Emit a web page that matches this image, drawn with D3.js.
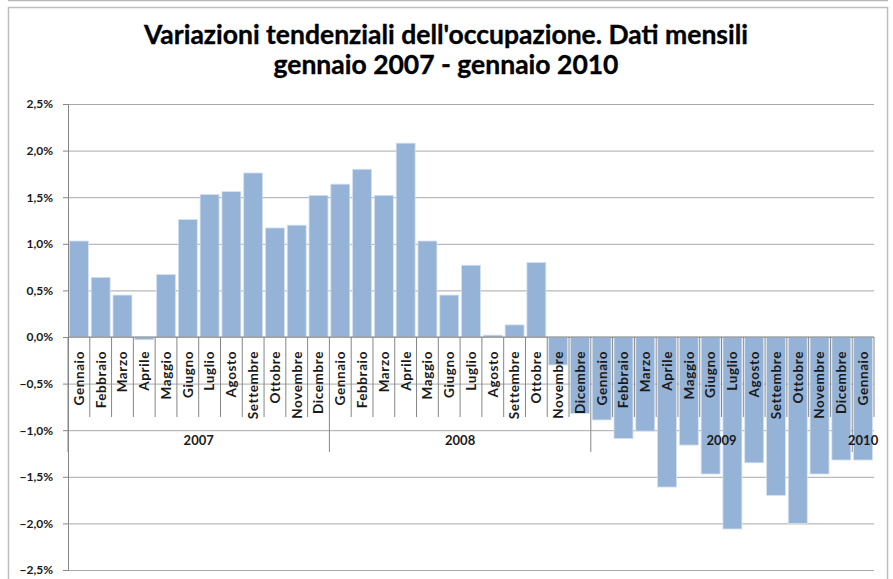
<!DOCTYPE html>
<html>
<head>
<meta charset="utf-8">
<script src="https://cdn.jsdelivr.net/npm/d3@7"></script>
<style>
  body { margin: 0; background: #fff; }
  text { font-family: Lato, "Open Sans", sans-serif; font-weight: bold; fill: #1a1a1a; }
</style>
</head>
<body>
<div id="chart"></div>
<script>
var svgWidth = 893;
var svgHeight = 579;

// month names and years on the category axis
var monthNames = ["Gennaio", "Febbraio", "Marzo", "Aprile", "Maggio", "Giugno",
  "Luglio", "Agosto", "Settembre", "Ottobre", "Novembre", "Dicembre"];
var years = ["2007", "2008", "2009", "2010"];

// tendential variation of employment, %
var values2007 = [1.03, 0.64, 0.45, -0.03, 0.67, 1.26, 1.53, 1.56, 1.76, 1.17, 1.20, 1.52];
var values2008 = [1.64, 1.80, 1.52, 2.08, 1.03, 0.45, 0.77, 0.02, 0.13, 0.80, -0.30, -0.82];
var values2009 = [-0.89, -1.09, -1.01, -1.61, -1.16, -1.47, -2.06, -1.35, -1.70, -2.00, -1.47, -1.32];
var values2010 = [-1.32];

var yTicks = [-2.5, -2.0, -1.5, -1.0, -0.5, 0, 0.5, 1.0, 1.5, 2.0, 2.5];

// flatten to one row per month
var data = [];
[values2007, values2008, values2009, values2010].forEach(function(vals, yi) {
  vals.forEach(function(v, mi) {
    data.push({ year: years[yi], month: monthNames[mi], value: v });
  });
});

var margin = { top: 104, right: 19, bottom: 9, left: 68 };
var width = svgWidth - margin.left - margin.right;
var height = svgHeight - margin.top - margin.bottom;

var svg = d3.select("#chart")
  .append("svg")
  .attr("width", svgWidth)
  .attr("height", svgHeight);

// frame
svg.append("line")
  .attr("x1", 8).attr("x2", 888).attr("y1", 0.5).attr("y2", 0.5)
  .attr("stroke", "#b8b8b8").attr("stroke-width", 1.5);
svg.append("rect")
  .attr("x", 8.5).attr("y", 7.5).attr("width", 879).attr("height", 600)
  .attr("fill", "none").attr("stroke", "#bdbdbd").attr("stroke-width", 1.5);

// title
var title = svg.append("text")
  .attr("text-anchor", "middle")
  .style("font-family", "Lato, sans-serif")
  .style("font-size", "26.5px")
  .style("fill", "#000")
  .style("stroke", "#000")
  .style("stroke-width", "0.35px");
title.append("tspan").attr("x", 446).attr("y", 44)
  .text("Variazioni tendenziali dell'occupazione. Dati mensili");
title.append("tspan").attr("x", 446).attr("y", 74)
  .text("gennaio 2007 - gennaio 2010");

var chartGroup = svg.append("g")
  .attr("transform", `translate(${margin.left}, ${margin.top})`);

var xBandScale = d3.scaleBand()
  .domain(d3.range(data.length))
  .range([0, width])
  .paddingInner(0.13)
  .paddingOuter(0.065);

var yLinearScale = d3.scaleLinear()
  .domain([-2.5, 2.5])
  .range([height, 0]);

var step = xBandScale.step();
var x0 = xBandScale.range()[0];
var fmt = function(d) { return d3.format(".1f")(d).replace(".", ",") + "%"; };

// gridlines
chartGroup.append("g")
  .call(d3.axisLeft(yLinearScale).tickValues(yTicks).tickSize(-width).tickFormat(""))
  .call(g => g.select(".domain").remove())
  .call(g => g.selectAll("line").attr("stroke", "#a9a9a9"));

// y axis
chartGroup.append("g")
  .call(d3.axisLeft(yLinearScale).tickValues(yTicks).tickSize(5).tickPadding(10).tickFormat(fmt))
  .call(g => g.select(".domain").attr("stroke", "#868686"))
  .call(g => g.selectAll("line").attr("stroke", "#868686"))
  .call(g => g.selectAll("text").style("font-size", "12px").style("fill", "#1a1a1a"));

var zeroY = yLinearScale(0);
var monthRowBottom = zeroY + 80;
var yearRowBottom = zeroY + 115;

// month separators
chartGroup.append("g")
  .selectAll("line")
  .data(d3.range(data.length + 1))
  .enter()
  .append("line")
  .attr("x1", d => x0 + d * step)
  .attr("x2", d => x0 + d * step)
  .attr("y1", zeroY)
  .attr("y2", d => (d % 12 === 0 && d < data.length) ? yearRowBottom : monthRowBottom)
  .attr("stroke", "#868686");

// bars
chartGroup.selectAll("rect.bar")
  .data(data)
  .enter()
  .append("rect")
  .attr("class", "bar")
  .attr("x", (d, i) => xBandScale(i))
  .attr("width", xBandScale.bandwidth())
  .attr("y", d => yLinearScale(Math.max(0, d.value)))
  .attr("height", d => Math.abs(yLinearScale(d.value) - zeroY))
  .attr("fill", "#95b3d7")
  .attr("stroke", "#d6e1ef")
  .attr("stroke-width", 0.8);

// zero axis line
chartGroup.append("line")
  .attr("x1", 0).attr("x2", width)
  .attr("y1", zeroY).attr("y2", zeroY)
  .attr("stroke", "#868686");

// month labels
chartGroup.selectAll("text.month")
  .data(data)
  .enter()
  .append("text")
  .attr("class", "month")
  .attr("transform", (d, i) => `translate(${xBandScale(i) + xBandScale.bandwidth() / 2}, ${zeroY + 14}) rotate(-90)`)
  .attr("text-anchor", "end")
  .attr("dy", "0.36em")
  .style("font-size", "13.5px")
  .style("letter-spacing", "0.6px")
  .text(d => d.month);

// year labels
chartGroup.selectAll("text.year")
  .data(years)
  .enter()
  .append("text")
  .attr("class", "year")
  .attr("x", function(d, i) {
    var n = i < 3 ? 12 : 1;
    return x0 + (i * 12 + n / 2) * step;
  })
  .attr("y", zeroY + 108)
  .attr("text-anchor", "middle")
  .style("font-size", "13px")
  .text(d => d);
</script>
</body>
</html>
